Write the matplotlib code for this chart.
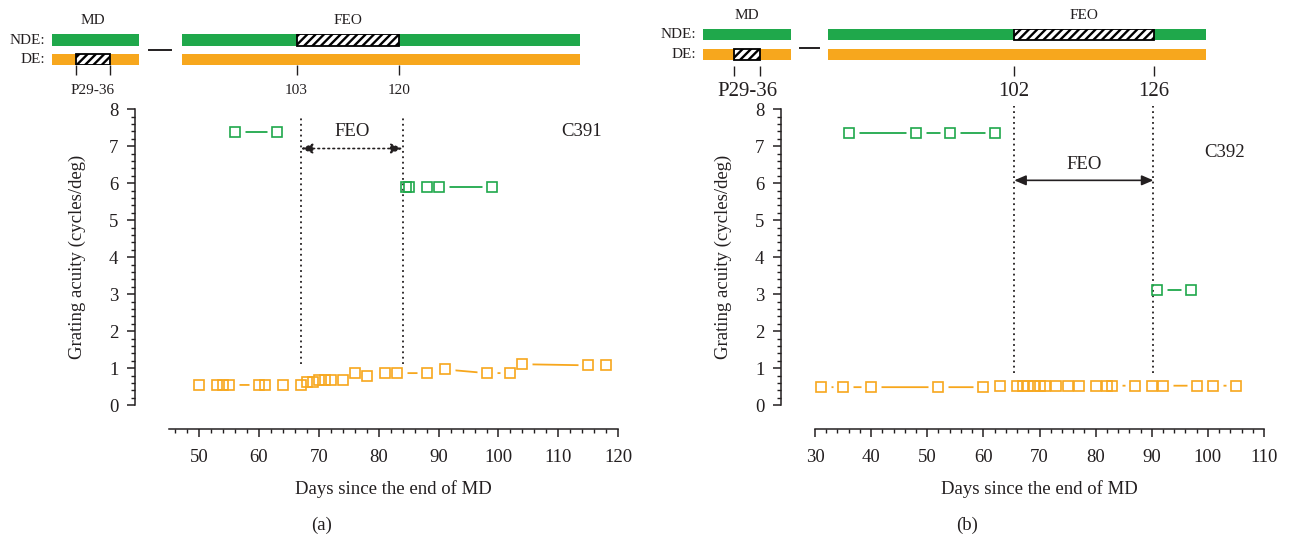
import matplotlib.pyplot as plt
from matplotlib.lines import Line2D
from matplotlib.ticker import MultipleLocator

plt.rcParams['font.family'] = ['Liberation Serif', 'DejaVu Serif']
plt.rcParams['hatch.linewidth'] = 1.7
plt.rcParams['hatch.color'] = 'black'

W, H = 1289, 540
GREEN = '#1fa84b'
ORANGE = '#f7a71d'
INK = '#231f20'

# ---------------------------------------------------------------------------
# data – cat C391 (a)
# ---------------------------------------------------------------------------
a_md = [29, 36]            # monocular deprivation, postnatal days
a_feo = [103, 120]         # fellow-eye occlusion, postnatal days
a_seg1 = [24, 42]          # timeline segments shown above the plot
a_seg2 = [84, 150]
a_feo_days = [67, 84]      # FEO in days since end of MD
a_name = 'C391'

a_nde_pre_days = [56, 63]
a_nde_pre_acuity = [7.38, 7.38]
a_nde_post_days = [84.5, 85, 88, 90, 99]
a_nde_post_acuity = [5.91, 5.91, 5.91, 5.91, 5.91]
a_de_days = [50, 53, 54, 55, 60, 61, 64, 67, 68, 69, 70, 71, 72, 74,
             76, 78, 81, 83, 88, 91, 98, 102, 104, 115, 118]
a_de_acuity = [0.55, 0.55, 0.55, 0.55, 0.55, 0.55, 0.55, 0.55, 0.63, 0.63,
               0.69, 0.69, 0.69, 0.69, 0.87, 0.78, 0.87, 0.87, 0.87, 0.97,
               0.87, 0.87, 1.11, 1.08, 1.10]

# ---------------------------------------------------------------------------
# data – cat C392 (b)
# ---------------------------------------------------------------------------
b_md = [29, 36]
b_feo = [102, 126]
b_seg1 = [21, 44]
b_seg2 = [70, 135]
b_feo_days = [65.5, 90.3]
b_name = 'C392'

b_nde_pre_days = [36, 48, 54, 62]
b_nde_pre_acuity = [7.37, 7.37, 7.37, 7.37]
b_nde_post_days = [91, 97]
b_nde_post_acuity = [3.11, 3.11]
b_de_days = [31, 35, 40, 52, 60, 63, 66, 67, 68, 69, 70, 71, 73, 75,
             77, 80, 82, 83, 87, 90, 92, 98, 101, 105]
b_de_acuity = [0.49, 0.49, 0.49, 0.49, 0.49, 0.53, 0.53, 0.53, 0.53, 0.53,
               0.53, 0.53, 0.53, 0.53, 0.53, 0.53, 0.53, 0.53, 0.53, 0.53,
               0.53, 0.53, 0.53, 0.53]


def px_rect(x0, y0, x1, y1):
    """pixel box (top-left origin) -> figure fraction rect"""
    return [x0 / W, 1 - y1 / H, (x1 - x0) / W, (y1 - y0) / H]


# ---------------------------------------------------------------------------
# timeline strips
# ---------------------------------------------------------------------------
def strip(fig, box, seg, hatch_span, hatch_row, h, gap, big_fs, title,
          span_label, names=False):
    ax = fig.add_axes(px_rect(*box))
    ax.barh([1, 0], seg[1] - seg[0], left=seg[0], height=h,
            color=[GREEN, ORANGE], lw=0)
    ax.barh(hatch_row, hatch_span[1] - hatch_span[0], left=hatch_span[0],
            height=h, facecolor='white', edgecolor='black', hatch='////',
            lw=1.3)
    ax.set_xlim(seg)
    ax.set_ylim(-h / 2 - gap, 1 + h / 2)
    for s in ax.spines.values():
        s.set_visible(False)
    ax.set_yticks([])
    ax.set_xticks(hatch_span, labels=['', ''])
    ax.tick_params(axis='x', length=7.5, width=1.0, color=INK, pad=0)
    mid = sum(hatch_span) / 2
    ax.annotate(title, xy=(mid, 1), xycoords=('data', 'axes fraction'),
                xytext=(0, 10), textcoords='offset points', ha='center',
                va='center', fontsize=11, color=INK)
    if span_label is None:
        for v in hatch_span:
            ax.annotate(str(v), xy=(v, 0), xycoords=('data', 'axes fraction'),
                        xytext=(0, -18), textcoords='offset points',
                        ha='center', va='center', fontsize=big_fs, color=INK)
    else:
        ax.annotate(span_label, xy=(mid, 0), xycoords=('data', 'axes fraction'),
                    xytext=(0, -18), textcoords='offset points',
                    ha='center', va='center', fontsize=big_fs, color=INK)
    if names:
        for row, lab in [(1, 'NDE:'), (0, 'DE:')]:
            ax.annotate(lab, xy=(0, row), xycoords=('axes fraction', 'data'),
                        xytext=(-4.5, 0), textcoords='offset points',
                        ha='right', va='center', fontsize=11, color=INK)
    return ax


def timeline(fig, md, feo, seg1, seg2, b1, b2, h, gap, fs):
    s1 = strip(fig, b1, seg1, md, 0, h, gap, fs, 'MD', f'P{md[0]}-{md[1]}',
               names=True)
    strip(fig, b2, seg2, feo, 1, h, gap, fs, 'FEO', None)
    # short dash between the two strips
    xm0 = (b1[2] + 0.25 * (b2[0] - b1[2])) / W
    xm1 = (b1[2] + 0.75 * (b2[0] - b1[2])) / W
    ym = 1 - (b1[1] + (b1[3] - b1[1]) * 0.5) / H
    fig.add_artist(Line2D([xm0, xm1], [ym, ym], color=INK, lw=1.4))
    return s1


# ---------------------------------------------------------------------------
# acuity panels
# ---------------------------------------------------------------------------
def trace(ax, days, vals, color):
    # line, white halo under each marker, then the open square on top
    ax.plot(days, vals, color=color, lw=1.3, zorder=2)
    ax.plot(days, vals, ls='none', marker='s', ms=14, mfc='white',
            mec='none', zorder=3)
    ax.plot(days, vals, ls='none', marker='s', ms=6.7, mfc='none',
            mec=color, mew=1.2, zorder=5)


def panel(fig, box, xlim, xstep, nde_pre, nde_post, de, feo_days, vspan,
          arrow_y, arrow_dotted, feo_txt, name_xy, letter):
    ax = fig.add_axes(px_rect(*box))
    trace(ax, *nde_pre, GREEN)
    trace(ax, *nde_post, GREEN)
    trace(ax, *de, ORANGE)

    ax.vlines(feo_days, vspan[0], vspan[1], colors=INK, lw=1.3,
              linestyles=[(0, (1, 2))], zorder=4, clip_on=False)
    ax.annotate('', xy=(feo_days[1], arrow_y), xytext=(feo_days[0], arrow_y),
                arrowprops=dict(arrowstyle='<|-|>,head_length=0.7,head_width=0.3',
                                color=INK, lw=1.2, shrinkA=0, shrinkB=0,
                                ls=(0, (1, 2)) if arrow_dotted else '-'),
                zorder=4)
    ax.text(sum(feo_days) / 2, feo_txt, 'FEO', ha='center', va='center',
            fontsize=13.5, color=INK)
    ax.text(name_xy[0], name_xy[1], name_xy[2], ha='center', va='center',
            fontsize=13.5, color=INK)

    ax.set_xlim(xlim)
    ax.set_ylim(0, 8)
    ax.xaxis.set_major_locator(MultipleLocator(10))
    ax.xaxis.set_minor_locator(MultipleLocator(xstep))
    ax.yaxis.set_major_locator(MultipleLocator(1))
    ax.yaxis.set_minor_locator(MultipleLocator(0.2))
    for s in ['top', 'right']:
        ax.spines[s].set_visible(False)
    ax.spines['left'].set_position(('outward', 24.5))
    ax.spines['bottom'].set_position(('outward', 17.3))
    for s in ['left', 'bottom']:
        ax.spines[s].set_linewidth(1.1)
        ax.spines[s].set_color(INK)
    ax.tick_params(which='major', length=6, width=1.1, color=INK,
                   labelsize=13.5, labelcolor=INK)
    ax.tick_params(which='minor', length=3.2, width=1.0, color=INK)
    ax.tick_params(axis='y', which='major', pad=6)
    ax.tick_params(axis='x', which='major', pad=8.5)
    ax.set_xlabel('Days since the end of MD', fontsize=13.5, color=INK,
                  labelpad=9.5)
    ax.set_ylabel('Grating acuity (cycles/deg)', fontsize=13.5, color=INK)
    ax.yaxis.set_label_coords(-0.185, 0.5)
    cx = (box[0] + box[2]) / 2 - 72
    fig.text(cx / W, 1 - 525 / H, letter, ha='center', va='center',
             fontsize=13.5, color=INK)
    return ax


fig = plt.figure(figsize=(W / 100, H / 100), dpi=100)

timeline(fig, a_md, a_feo, a_seg1, a_seg2,
         (51.7, 34.4, 138.5, 65.1), (182, 34.4, 580, 65.1),
         h=0.6, gap=0.0, fs=11)
timeline(fig, b_md, b_feo, b_seg1, b_seg2,
         (702.9, 29, 791, 66.0), (828.3, 29, 1205.8, 66.0),
         h=0.53, gap=0.28, fs=15)

panel(fig, (169, 109.3, 618.3, 405.3), (45, 120), 2,
      (a_nde_pre_days, a_nde_pre_acuity), (a_nde_post_days, a_nde_post_acuity),
      (a_de_days, a_de_acuity), a_feo_days, (1.12, 7.85), 6.94, True, 7.39,
      (113.9, 7.4, a_name), '(a)')
panel(fig, (815, 109.3, 1264, 405.3), (30, 110), 2,
      (b_nde_pre_days, b_nde_pre_acuity), (b_nde_post_days, b_nde_post_acuity),
      (b_de_days, b_de_acuity), b_feo_days, (0.87, 8.1), 6.08, False, 6.5,
      (103, 6.82, b_name), '(b)')

fig.savefig('out.png', dpi=100)
